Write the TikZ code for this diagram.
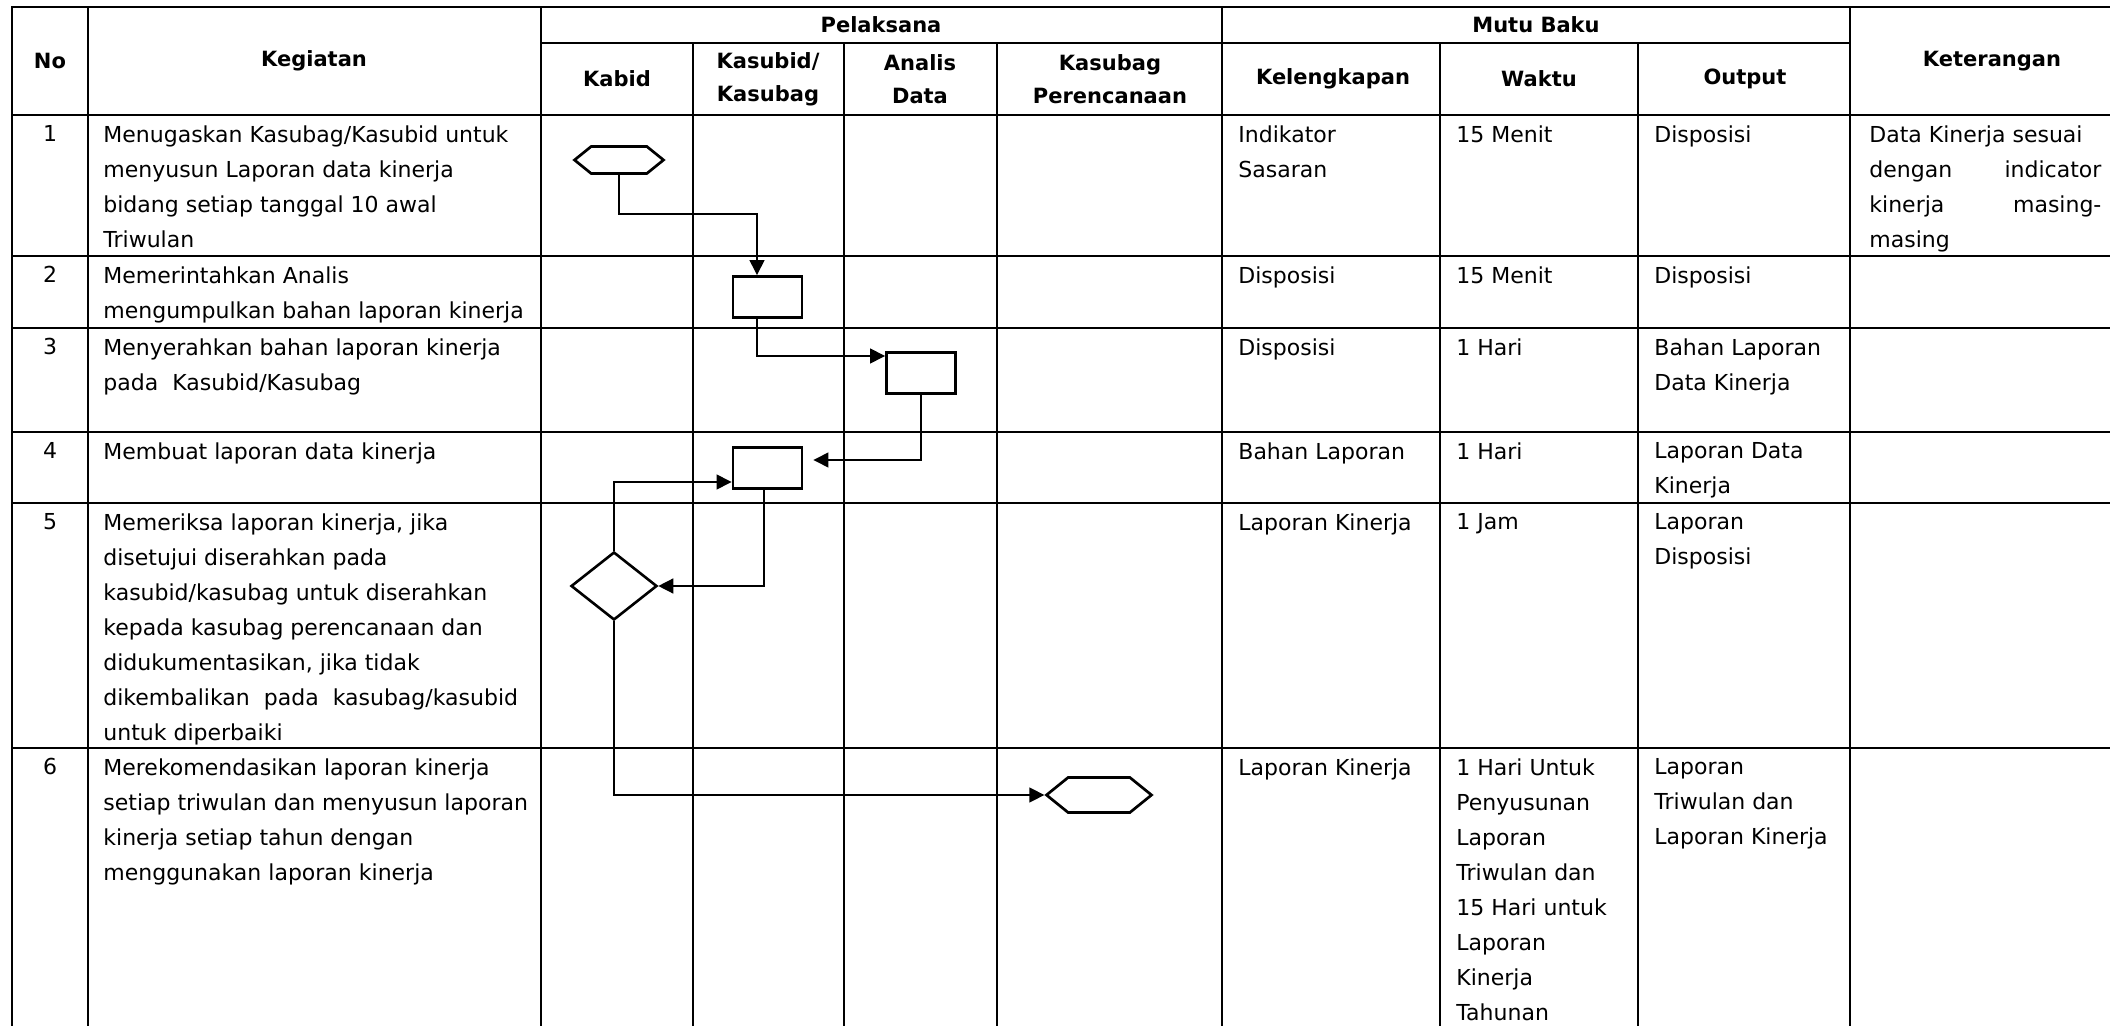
\documentclass[tikz,border=0pt]{standalone}
\usepackage{fontspec}
\setmainfont{DejaVu Sans}
\usetikzlibrary{arrows.meta,calc,shapes,positioning}

\begin{document}
\begin{tikzpicture}[x=0.5pt,y=-0.5pt,
  gridline/.style={line width=0.85pt},
  flowline/.style={line width=0.7pt,-{Triangle[length=7.5pt,width=7.5pt]}},
  procbox/.style={draw,line width=1.35pt,inner sep=0pt,minimum width=34.6pt,minimum height=20.6pt},
  termbox/.style={draw,line width=1.35pt,signal,signal to=west and east,signal pointer angle=78,inner sep=0pt},
  decbox/.style={draw,line width=1.3pt,diamond,inner sep=0pt,minimum width=43pt,minimum height=34pt},
  celltext/.style={anchor=north west,inner sep=0pt,font=\fontsize{11}{17.5}\selectfont,align=left},
  cellhead/.style={inner sep=0pt,font=\bfseries\fontsize{10.5}{16.5}\selectfont,align=center}]
\useasboundingbox (0,0) rectangle (2110,1026);
%frame and rows
\draw[gridline] (12,1026) -- (12,7) -- (2110,7);
\draw[gridline] (541,43) -- (1850,43);
\foreach \y in {115,256,432,503,748}
  \draw[gridline] (12,\y) -- (2110,\y);
\draw[line width=0.6pt] (12,328) -- (2110,328);
%the separators
\foreach \x in {88,541,1222,1850}
  \draw[gridline] (\x,7) -- (\x,1026);
\foreach \x in {693,844,997,1440,1638}
  \draw[gridline] (\x,43) -- (\x,1026);

%header
\node[cellhead] (hNo) at (50,61) {No};
\node[cellhead] (hKeg) at (314,61) {Kegiatan};
\node[cellhead] (hPel) at (881,25) {Pelaksana};
\node[cellhead] (hMutu) at (1536,25) {Mutu Baku};
\node[cellhead] (hKet) at (1992,61) {Keterangan};
\node[cellhead] (hKabid) at (617,79) {Kabid};
\node[cellhead] (hKasubid) at (768,79) {Kasubid/\\Kasubag};
\node[cellhead] (hAnalis) at (920,79) {Analis\\Data};
\node[cellhead] (hPer) at (1110,79) {Kasubag\\Perencanaan};
\node[cellhead] (hKel) at (1333,79) {Kelengkapan};
\node[cellhead] (hWaktu) at (1539,79) {Waktu};
\node[cellhead] (hOut) at (1745,79) {Output};

%no
\foreach \n/\y in {1/115,2/256,3/328,4/432,5/503,6/748}
  \node[celltext,anchor=north] (no\n) at (50,\y+10) {\n};

%kegiatan
\node[celltext] (keg1) at (103,125) {Menugaskan Kasubag/Kasubid untuk\\menyusun Laporan data kinerja\\bidang setiap tanggal 10 awal\\Triwulan};
\node[celltext] (keg2) at (103,266) {Memerintahkan Analis\\mengumpulkan bahan laporan kinerja};
\node[celltext] (keg3) at (103,338) {Menyerahkan bahan laporan kinerja\\pada~ Kasubid/Kasubag};
\node[celltext] (keg4) at (103,442) {Membuat laporan data kinerja};
\node[celltext] (keg5) at (103,513) {Memeriksa laporan kinerja, jika\\disetujui diserahkan pada\\kasubid/kasubag untuk diserahkan\\kepada kasubag perencanaan dan\\didukumentasikan, jika tidak\\dikembalikan~ pada~ kasubag/kasubid\\untuk diperbaiki};
\node[celltext] (keg6) at (103,758) {Merekomendasikan laporan kinerja\\setiap triwulan dan menyusun laporan\\kinerja setiap tahun dengan\\menggunakan laporan kinerja};

%kelengkapan
\node[celltext] (kel1) at (1238,125) {Indikator\\Sasaran};
\node[celltext] (kel2) at (1238,266) {Disposisi};
\node[celltext] (kel3) at (1238,338) {Disposisi};
\node[celltext] (kel4) at (1238,442) {Bahan Laporan};
\node[celltext] (kel5) at (1238,513) {Laporan Kinerja};
\node[celltext] (kel6) at (1238,758) {Laporan Kinerja};

%waktu
\node[celltext] (wkt1) at (1456,125) {15 Menit};
\node[celltext] (wkt2) at (1456,266) {15 Menit};
\node[celltext] (wkt3) at (1456,338) {1 Hari};
\node[celltext] (wkt4) at (1456,442) {1 Hari};
\node[celltext] (wkt5) at (1456,513) {1 Jam};
\node[celltext] (wkt6) at (1456,758) {1 Hari Untuk\\Penyusunan\\Laporan\\Triwulan dan\\15 Hari untuk\\Laporan\\Kinerja\\Tahunan};

%output
\node[celltext] (out1) at (1654,125) {Disposisi};
\node[celltext] (out2) at (1654,266) {Disposisi};
\node[celltext] (out3) at (1654,338) {Bahan Laporan\\Data Kinerja};
\node[celltext] (out4) at (1654,442) {Laporan Data\\Kinerja};
\node[celltext] (out5) at (1654,513) {Laporan\\Disposisi};
\node[celltext] (out6) at (1654,758) {Laporan\\Triwulan dan\\Laporan Kinerja};

%keterangan
\node[celltext,text width=116pt,align=justify] (ket1) at (1869,125) {Data Kinerja sesuai\\dengan\hfill indicator\\kinerja\hfill masing-\\masing};

%flow
\node[termbox,minimum width=44.5pt,minimum height=13.5pt] (hexA) at (619,160) {};
\node[procbox] (boxB) at (767.5,297) {};
\node[procbox] (boxC) at (921,373) {};
\node[procbox] (boxD) at (767.5,468) {};
\node[decbox] (decE) at (614,586) {};
\node[termbox,minimum width=52.5pt,minimum height=17.5pt] (hexF) at (1099,795) {};

\coordinate (b1) at (757,214);
\coordinate (b2) at (757,356);
\coordinate (b3) at (920,460);
\coordinate (b4) at (614,482);

\draw[flowline] (hexA.south) |- (b1) -- (b1 |- boxB.north);
\draw[flowline] (b1 |- boxB.south) -- (b2) -- (b2 -| boxC.west);
\draw[flowline,shorten >=5pt] (boxC.south) |- (b3 -| boxD.east);
\draw[flowline] (decE.north) |- (b4 -| boxD.west);
\draw[flowline] ([xshift=-1.75pt]boxD.south) |- (decE.east);
\draw[flowline] (decE.south) |- (hexF.west);
\end{tikzpicture}
\end{document}
